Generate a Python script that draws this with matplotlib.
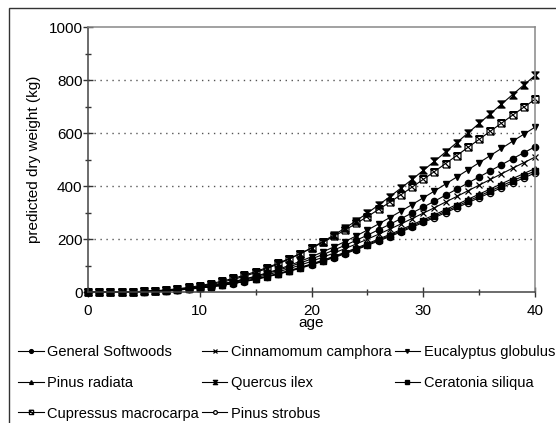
import matplotlib
matplotlib.use("Agg")
import matplotlib.pyplot as plt
from matplotlib.path import Path
from matplotlib.patches import Rectangle
from matplotlib.ticker import MultipleLocator

plt.rcParams['font.family'] = ['Liberation Sans', 'DejaVu Sans']

# ages 0..40
age = list(range(0, 41))

general_softwoods = [0, 0, 0.1, 0.4, 1.0, 2.1, 3.7, 6.0, 9.1, 13.1, 18.0, 23.9, 30.8, 38.8, 47.9, 58.0,
                     69.4, 81.6, 95.0, 109.3, 124.7, 140.9, 158.3, 176.1, 195.0, 214.5, 234.7, 255.3,
                     276.5, 298.3, 320.3, 342.5, 365.5, 388.1, 411.3, 434.1, 457.2, 480.2, 503.1, 525.5, 548]
cinnamomum = [0, 0, 0.1, 0.4, 0.9, 1.9, 3.4, 5.6, 8.5, 12.2, 16.7, 22.2, 28.6, 36.0, 44.5, 53.9,
              64.4, 75.8, 88.3, 101.5, 115.8, 130.9, 147.0, 163.6, 181.2, 199.2, 218.0, 237.1,
              256.8, 277.1, 297.5, 318.1, 339.5, 360.5, 382.0, 403.2, 424.7, 446.0, 467.3, 488.1, 509]
eucalyptus = [0, 0, 0.1, 0.3, 0.9, 1.8, 3.4, 5.6, 8.7, 12.7, 17.6, 23.7, 30.9, 39.3, 49.0, 59.8,
              72.0, 85.3, 100.1, 115.8, 132.9, 151.0, 170.2, 190.5, 211.7, 233.7, 256.7, 280.6,
              304.9, 329.9, 355.3, 381.0, 407.5, 434.0, 460.8, 488.0, 514.9, 541.8, 568.9, 595.4, 622]
pinus_radiata = [0, 0, 0.1, 0.3, 0.9, 1.8, 3.2, 5.1, 7.8, 11.1, 15.3, 20.3, 26.2, 33.0, 40.7, 49.3,
                 59.0, 69.4, 80.8, 93.0, 106.1, 119.9, 134.6, 149.8, 165.8, 182.4, 199.6, 217.1,
                 235.1, 253.7, 272.4, 291.3, 310.8, 330.0, 349.7, 369.2, 388.8, 408.4, 427.8, 446.9, 466]
quercus_ilex = [0, 0, 0.1, 0.3, 0.9, 2.0, 3.8, 6.4, 10.0, 14.7, 20.7, 28.1, 37.0, 47.4, 59.4, 73.1,
                88.5, 105.4, 124.2, 144.4, 166.4, 189.7, 214.8, 241.2, 269.0, 297.9, 328.2, 359.5,
                391.8, 424.8, 458.8, 493.1, 528.3, 563.7, 599.8, 636.3, 672.2, 708.8, 745.2, 781.1, 817]
ceratonia = [0, 0, 0.1, 0.3, 0.8, 1.7, 3.1, 5.0, 7.6, 10.9, 15.0, 19.9, 25.7, 32.4, 39.9, 48.4,
             57.9, 68.0, 79.2, 91.2, 104.0, 117.5, 132.0, 146.9, 162.6, 178.9, 195.7, 212.9,
             230.6, 248.8, 267.1, 285.6, 304.8, 323.6, 343.0, 362.0, 381.3, 400.5, 419.5, 438.3, 457]
cupressus = [0, 0, 0.1, 0.5, 1.3, 2.7, 4.9, 8.0, 12.1, 17.4, 23.9, 31.7, 40.9, 51.5, 63.5, 77.0,
             92.0, 108.2, 126.1, 145.0, 165.5, 187.0, 210.0, 233.7, 258.7, 284.5, 311.4, 338.6,
             366.8, 395.8, 424.9, 454.4, 484.9, 514.9, 545.6, 575.9, 606.6, 637.1, 667.4, 697.2, 727]
pinus_strobus = [0, 0, 0.1, 0.3, 0.8, 1.7, 3.0, 4.9, 7.5, 10.7, 14.7, 19.6, 25.2, 31.8, 39.2, 47.5,
                 56.8, 66.9, 77.9, 89.6, 102.2, 115.5, 129.7, 144.3, 159.8, 175.7, 192.3, 209.1,
                 226.6, 244.4, 262.4, 280.6, 299.5, 318.0, 337.0, 355.7, 374.6, 393.5, 412.2, 430.6, 449]

# hourglass and boxed-cross markers
bowtie = Path([(-1, 1), (1, 1), (-1, -1), (1, -1), (-1, 1)],
              [Path.MOVETO, Path.LINETO, Path.LINETO, Path.LINETO, Path.CLOSEPOLY])
boxcross = Path([(-1, -1), (1, -1), (1, 1), (-1, 1), (-1, -1), (1, 1), (-1, 1), (1, -1)],
                [Path.MOVETO, Path.LINETO, Path.LINETO, Path.LINETO, Path.LINETO,
                 Path.MOVETO, Path.LINETO, Path.LINETO])

# legend fills column by column, so this order gives the row layout
series = [
    ("General Softwoods", general_softwoods, dict(marker='o', ms=4.5, mfc='black')),
    ("Pinus radiata", pinus_radiata, dict(marker='^', ms=4.5, mfc='black')),
    ("Cupressus macrocarpa", cupressus, dict(marker=boxcross, ms=5, mfc='none', mew=0.9)),
    ("Cinnamomum camphora", cinnamomum, dict(marker='x', ms=4.5, mew=0.9)),
    ("Quercus ilex", quercus_ilex, dict(marker=bowtie, ms=5, mfc='black')),
    ("Pinus strobus", pinus_strobus, dict(marker='o', ms=4.5, mfc='white', mew=0.9)),
    ("Eucalyptus globulus", eucalyptus, dict(marker='v', ms=4.5, mfc='black')),
    ("Ceratonia siliqua", ceratonia, dict(marker='s', ms=4.5, mfc='black')),
]

fig = plt.figure(figsize=(5.56, 4.23), dpi=100)
ax = fig.add_axes([88/556, 1-292/423, 447/556, 265/423])

handles = []
for name, vals, style in series:
    ln, = ax.plot(age, vals, color='black', lw=0.8, mec='black', clip_on=False,
                  label=name, **style)
    handles.append(ln)

ax.set_xlim(0, 40)
ax.set_ylim(0, 1000)
ax.xaxis.set_major_locator(MultipleLocator(10))
ax.xaxis.set_minor_locator(MultipleLocator(5))
ax.yaxis.set_major_locator(MultipleLocator(200))
ax.yaxis.set_minor_locator(MultipleLocator(100))

for g in [200, 400, 600, 800]:
    ax.axhline(g, color='#555555', lw=1.0, dashes=(1, 3.3), zorder=0)

ax.tick_params(which='major', direction='inout', length=7, width=1, color='#333333',
               labelsize=11)
ax.tick_params(which='minor', direction='inout', length=5, width=1, color='#333333')
ax.tick_params(axis='x', pad=5)
ax.tick_params(axis='y', pad=0.5)

for s in ['left', 'bottom']:
    ax.spines[s].set_color('#444444')
    ax.spines[s].set_linewidth(1.1)
for s in ['top', 'right']:
    ax.spines[s].set_color('#888888')
    ax.spines[s].set_linewidth(1.1)

ax.set_ylabel("predicted dry weight (kg)", fontsize=11)
ax.yaxis.set_label_coords(-0.105, 0.5)
ax.set_xlabel("age", fontsize=11, va='top')
ax.xaxis.set_label_coords(0.5, -0.092)

fig.legend(handles=handles, loc='upper left', bbox_to_anchor=(18/556, 1-345/423),
           ncol=3, frameon=False, fontsize=10.5, handlelength=1.75, handletextpad=0.25,
           columnspacing=0.2, labelspacing=1.15, borderpad=0, borderaxespad=0,
           markerscale=0.6)

# outer frame
fig.patches.append(Rectangle((9/556, -0.1), 1.2, 1.1 - 8/423, transform=fig.transFigure,
                             fill=False, edgecolor='#333333', lw=1.0))

fig.savefig("out.png", dpi=100)
